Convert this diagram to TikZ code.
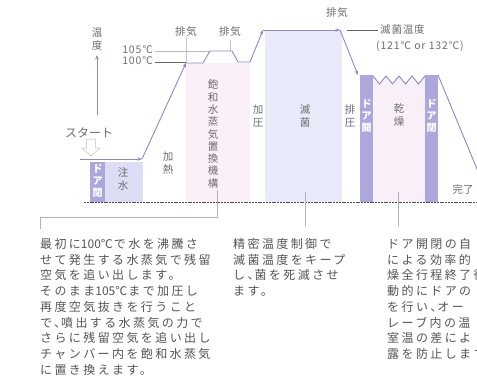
\documentclass[tikz,border=0pt]{standalone}
\usepackage{fontspec}
\newfontfamily\jp[LetterSpace=20]{Noto Sans CJK JP}
\newfontfamily\jpm[LetterSpace=8]{Noto Sans CJK JP}
\newfontfamily\jps{Noto Sans CJK JP}
\newcommand\numtxt[1]{{\jps\fontsize{12}{15.75}\selectfont #1}\kern1pt}
\newcommand\tenkern{\kern-5pt}
\usetikzlibrary{arrows.meta}
\definecolor{curve}{HTML}{8C8ACB}
\definecolor{door}{HTML}{ACA8DE}
\definecolor{inj}{HTML}{DDDDF5}
\definecolor{ster}{HTML}{E8EAFA}
\definecolor{sat}{HTML}{FBF0F8}
\definecolor{dry}{HTML}{F8EFF8}
\definecolor{lbl}{HTML}{6E6E6E}
\definecolor{bodytxt}{HTML}{555555}
\begin{document}
\begin{tikzpicture}[x=1pt,y=-1pt,
 vt/.style={align=center,inner sep=0pt,text=lbl,font=\jps\fontsize{10.5}{12.3}\selectfont},
 dt/.style={align=center,inner sep=0pt,text=white,font=\jps\bfseries\fontsize{10}{12}\selectfont},
 lab/.style={inner sep=0pt,text=lbl,font=\jpm\fontsize{10.5}{13}\selectfont},
 para/.style={align=left,inner sep=0pt,anchor=north west,text=bodytxt,font=\jp\fontsize{12}{15.75}\selectfont},
 crv/.style={draw=curve,line width=0.9pt},
 tip/.style={-{Stealth[length=4.5pt,width=3.5pt]}},
 lead/.style={draw=gray!60,line width=0.5pt},
 guide/.style={draw=gray!45,line width=0.4pt},
]
\useasboundingbox[fill=white] (0,0) rectangle (477,383);
% regions
\fill[inj] (105,162) rectangle (143,202);
\fill[door] (90,162) rectangle (105,202);
\fill[sat] (186,63) rectangle (250,202);
\fill[ster] (265,30) rectangle (342,202);
\fill[dry] (373,76) -- (379.5,84) -- (386,76) -- (392.5,84) -- (399,76) -- (405.5,84) -- (412,76) -- (418.5,84) -- (425,76) -- (425,202) -- (373,202) -- cycle;
\fill[door] (360,75) rectangle (373,202);
\fill[door] (425,75) rectangle (438,202);
% baseline
\draw[draw=black!70,line width=0.6pt,dash pattern=on 2pt off 0.8pt] (84,202) -- (477,202);
% guides
\draw[guide] (186,37) -- (186,63);
\draw[guide] (230,40) -- (230,51);
\draw[draw=gray!55,line width=0.6pt] (155,51) -- (210,51);
\draw[draw=black!60,line width=0.6pt] (155,62) -- (186,62);
% axis
\coordinate (ax0) at (97,115);
\coordinate (ax1) at (97,55);
\draw[crv,tip] (ax0) -- (ax1);
\node[vt] (ondo) at (97,39) {温\\度};
% curve
\coordinate (c0) at (80,159);
\coordinate (c1) at (142,159);
\coordinate (c2) at (186,63);
\coordinate (c3) at (203,63);
\coordinate (c4) at (210,51);
\coordinate (c5) at (232,51);
\coordinate (c6) at (238,62);
\coordinate (c7) at (250,62);
\coordinate (c8) at (263,30);
\coordinate (c9) at (340,30);
\coordinate (c10) at (358,75);
\coordinate (c11) at (438,75);
\coordinate (c12) at (482,181);
\draw[crv,tip] (c0) -- (c1);
\draw[crv,tip] (c1) -- (c2);
\draw[crv] (c2) -- (c3) -- (c4) -- (c5) -- (c6) -- (c7);
\draw[crv,tip] (c7) -- (c8);
\draw[crv,tip] (c8) -- (c9);
\draw[crv,tip] (c9) -- (c10);
\draw[crv,line join=miter] (373,76) -- (379.5,84) -- (386,76) -- (392.5,84) -- (399,76) -- (405.5,84) -- (412,76) -- (418.5,84) -- (425,76);
\draw[crv] (c11) -- (c12);
% temperature labels
\node[lab,anchor=east] (t105) at (153,50) {105℃};
\node[lab,anchor=east] (t100) at (153,61) {100℃};
\node[lab] (ex1) at (186,32) {排気};
\node[lab] (ex2) at (230,32) {排気};
\node[lab] (ex3) at (337,13) {排気};
\coordinate (st0) at (347,30);
\coordinate (st1) at (378,30);
\draw[draw=black!60,line width=0.5pt] (st0) -- (st1);
\node[lab,anchor=west] (sttemp) at (380,30) {滅菌温度};
\node[lab,anchor=west] (sttemp2) at (376,46) {(121℃ or 132℃)};
% start
\node[inner sep=0pt,text=lbl,font=\jps\fontsize{12}{14}\selectfont] (start) at (89,133) {スタート};
\draw[draw=gray!50,fill=white,line width=0.5pt] (86.5,139) -- (95.5,139) -- (95.5,148) -- (100,148) -- (91,156) -- (82,148) -- (86.5,148) -- cycle;
% stage labels
\node[dt] (door1) at (97.5,181) {ド\\ア\\閉};
\node[vt] (water) at (123,179) {注\\水};
\node[vt] (heat) at (168,163) {加\\熱};
\node[vt] (subst) at (213,134) {飽\\和\\水\\蒸\\気\\置\\換\\機\\構};
\node[vt] (press) at (258,116) {加\\圧};
\node[vt] (steril) at (305,116) {滅\\菌};
\node[vt] (depress) at (350,116) {排\\圧};
\node[dt] (door2) at (366.5,116) {ド\\ア\\開};
\node[vt] (dryl) at (399,115) {乾\\燥};
\node[dt] (door3) at (431.5,116) {ド\\ア\\閉};
\node[vt] (done) at (463,190) {完了};
% leaders
\coordinate (l1a) at (217,190);
\coordinate (l1b) at (217,217);
\coordinate (l1c) at (40,217);
\coordinate (l1d) at (40,229);
\draw[lead] (l1a) -- (l1b) -- (l1c) -- (l1d);
\coordinate (l2a) at (305,192);
\coordinate (l2b) at (305,226);
\draw[lead] (l2a) -- (l2b);
\coordinate (l3a) at (398,192);
\coordinate (l3b) at (398,226);
\draw[lead] (l3a) -- (l3b);
% paragraphs
\node[para] (p1) at (40,238) {最初に\numtxt{100℃}で水を沸騰さ\\せて発生する水蒸気で残留\\空気を追い出します。\\そのまま\numtxt{105℃}まで加圧し\\再度空気抜きを行うこと\\で、\tenkern 噴出する水蒸気の力で\\さらに残留空気を追い出し\\チャンバー内を飽和水蒸気\\に置き換えます。};
\node[para] (p2) at (233,238) {精密温度制御で\\滅菌温度をキープ\\し、\tenkern 菌を死滅させ\\ます。};
\node[para] (p3) at (387,238) {ドア開閉の自\\による効率的\\燥全行程終了後\\動的にドアの\\を行い、\tenkern オー\\レーブ内の温\\室温の差によ\\露を防止します};
\end{tikzpicture}
\end{document}
